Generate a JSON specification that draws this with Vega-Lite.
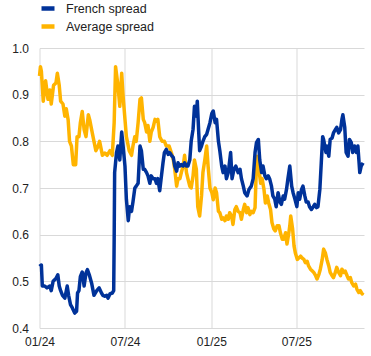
{
  "$schema": "https://vega.github.io/schema/vega-lite/v6.json",
  "width": 324.5,
  "height": 280,
  "autosize": "none",
  "padding": {"left": 39.5, "top": 48, "right": 7, "bottom": 28},
  "config": {
    "view": {"stroke": null},
    "font": "Liberation Sans",
    "axis": {"gridColor": "#d9d9d9", "gridWidth": 1, "labelFontSize": 12, "labelColor": "#222222", "labelFont": "Liberation Sans"}
  },
  "encoding": {
    "x": {"field": "date", "type": "temporal",
      "scale": {"domain": [{"year": 2024, "month": 1, "date": 1}, {"year": 2025, "month": 11, "date": 22}]},
      "axis": {"values": [{"year": 2024, "month": 1, "date": 1}, {"year": 2024, "month": 7, "date": 1}, {"year": 2025, "month": 1, "date": 1}, {"year": 2025, "month": 7, "date": 1}],
        "format": "%m/%y", "title": null, "grid": true, "ticks": false, "domain": false, "labelPadding": 8.5, "labelFlush": false}},
    "y": {"field": "value", "type": "quantitative",
      "scale": {"domain": [0.4, 1.0], "nice": false, "zero": false},
      "axis": {"values": [0.4, 0.5, 0.6, 0.7, 0.8, 0.9, 1.0], "format": ".1f", "title": null, "grid": true, "ticks": false, "domain": false, "labelPadding": 11}},
    "color": {"type": "nominal",
      "scale": {"domain": ["French spread", "Average spread"], "range": ["#003299", "#FFB400"]},
      "legend": {"orient": "none", "legendX": -0.5, "legendY": -48.5, "title": null, "symbolType": "stroke", "symbolStrokeWidth": 4.5, "symbolSize": 169, "labelFontSize": 12.5, "labelColor": "#222222", "labelOffset": 9, "rowPadding": -1, "padding": 0}}
  },
  "layer": [
    {
      "data": {"values": [
        {"date": "2024-01-01", "value": 0.94}, {"date": "2024-01-03", "value": 0.96}, {"date": "2024-01-05", "value": 0.95}, {"date": "2024-01-09", "value": 0.886},
        {"date": "2024-01-14", "value": 0.93}, {"date": "2024-01-19", "value": 0.89}, {"date": "2024-01-23", "value": 0.91}, {"date": "2024-01-26", "value": 0.88},
        {"date": "2024-01-31", "value": 0.92}, {"date": "2024-02-05", "value": 0.925}, {"date": "2024-02-08", "value": 0.946}, {"date": "2024-02-12", "value": 0.92},
        {"date": "2024-02-15", "value": 0.886}, {"date": "2024-02-20", "value": 0.88}, {"date": "2024-02-24", "value": 0.854}, {"date": "2024-02-27", "value": 0.87},
        {"date": "2024-03-02", "value": 0.846}, {"date": "2024-03-05", "value": 0.80}, {"date": "2024-03-09", "value": 0.79}, {"date": "2024-03-13", "value": 0.75},
        {"date": "2024-03-18", "value": 0.75}, {"date": "2024-03-21", "value": 0.81}, {"date": "2024-03-25", "value": 0.81}, {"date": "2024-03-28", "value": 0.84},
        {"date": "2024-04-01", "value": 0.864}, {"date": "2024-04-05", "value": 0.825}, {"date": "2024-04-09", "value": 0.81}, {"date": "2024-04-14", "value": 0.857},
        {"date": "2024-04-17", "value": 0.846}, {"date": "2024-04-21", "value": 0.825}, {"date": "2024-04-26", "value": 0.80}, {"date": "2024-04-30", "value": 0.78},
        {"date": "2024-05-05", "value": 0.79}, {"date": "2024-05-08", "value": 0.80}, {"date": "2024-05-14", "value": 0.77}, {"date": "2024-05-19", "value": 0.775},
        {"date": "2024-05-24", "value": 0.77}, {"date": "2024-05-30", "value": 0.78}, {"date": "2024-06-04", "value": 0.77}, {"date": "2024-06-08", "value": 0.84},
        {"date": "2024-06-11", "value": 0.96}, {"date": "2024-06-16", "value": 0.92}, {"date": "2024-06-20", "value": 0.875}, {"date": "2024-06-24", "value": 0.946},
        {"date": "2024-06-27", "value": 0.897}, {"date": "2024-07-01", "value": 0.847}, {"date": "2024-07-04", "value": 0.81}, {"date": "2024-07-10", "value": 0.78},
        {"date": "2024-07-15", "value": 0.77}, {"date": "2024-07-18", "value": 0.79}, {"date": "2024-07-22", "value": 0.81}, {"date": "2024-07-25", "value": 0.80},
        {"date": "2024-07-29", "value": 0.84}, {"date": "2024-08-02", "value": 0.89}, {"date": "2024-08-05", "value": 0.893}, {"date": "2024-08-09", "value": 0.847},
        {"date": "2024-08-12", "value": 0.84}, {"date": "2024-08-16", "value": 0.82}, {"date": "2024-08-19", "value": 0.834}, {"date": "2024-08-23", "value": 0.80},
        {"date": "2024-08-26", "value": 0.82}, {"date": "2024-08-30", "value": 0.83}, {"date": "2024-09-03", "value": 0.847}, {"date": "2024-09-06", "value": 0.843},
        {"date": "2024-09-09", "value": 0.847}, {"date": "2024-09-13", "value": 0.81}, {"date": "2024-09-18", "value": 0.80}, {"date": "2024-09-23", "value": 0.80},
        {"date": "2024-09-27", "value": 0.79}, {"date": "2024-10-03", "value": 0.79}, {"date": "2024-10-08", "value": 0.775}, {"date": "2024-10-12", "value": 0.76},
        {"date": "2024-10-15", "value": 0.74}, {"date": "2024-10-19", "value": 0.704}, {"date": "2024-10-22", "value": 0.72}, {"date": "2024-10-26", "value": 0.72},
        {"date": "2024-10-29", "value": 0.733}, {"date": "2024-11-02", "value": 0.747}, {"date": "2024-11-05", "value": 0.77}, {"date": "2024-11-09", "value": 0.733},
        {"date": "2024-11-12", "value": 0.72}, {"date": "2024-11-16", "value": 0.704}, {"date": "2024-11-19", "value": 0.70}, {"date": "2024-11-23", "value": 0.726},
        {"date": "2024-11-26", "value": 0.76}, {"date": "2024-11-30", "value": 0.74}, {"date": "2024-12-03", "value": 0.66}, {"date": "2024-12-07", "value": 0.64},
        {"date": "2024-12-11", "value": 0.683}, {"date": "2024-12-14", "value": 0.733}, {"date": "2024-12-18", "value": 0.76}, {"date": "2024-12-22", "value": 0.79},
        {"date": "2024-12-25", "value": 0.747}, {"date": "2024-12-29", "value": 0.70}, {"date": "2025-01-02", "value": 0.69}, {"date": "2025-01-05", "value": 0.675},
        {"date": "2025-01-09", "value": 0.70}, {"date": "2025-01-12", "value": 0.69}, {"date": "2025-01-16", "value": 0.65}, {"date": "2025-01-19", "value": 0.647},
        {"date": "2025-01-23", "value": 0.633}, {"date": "2025-01-26", "value": 0.636}, {"date": "2025-01-30", "value": 0.63}, {"date": "2025-02-02", "value": 0.64},
        {"date": "2025-02-06", "value": 0.633}, {"date": "2025-02-09", "value": 0.647}, {"date": "2025-02-13", "value": 0.64}, {"date": "2025-02-16", "value": 0.622},
        {"date": "2025-02-20", "value": 0.654}, {"date": "2025-02-23", "value": 0.66}, {"date": "2025-02-27", "value": 0.65}, {"date": "2025-03-03", "value": 0.647},
        {"date": "2025-03-06", "value": 0.633}, {"date": "2025-03-10", "value": 0.654}, {"date": "2025-03-13", "value": 0.665}, {"date": "2025-03-17", "value": 0.647},
        {"date": "2025-03-20", "value": 0.658}, {"date": "2025-03-24", "value": 0.643}, {"date": "2025-03-27", "value": 0.65}, {"date": "2025-03-31", "value": 0.647},
        {"date": "2025-04-04", "value": 0.658}, {"date": "2025-04-06", "value": 0.72}, {"date": "2025-04-08", "value": 0.768}, {"date": "2025-04-12", "value": 0.74},
        {"date": "2025-04-16", "value": 0.71}, {"date": "2025-04-19", "value": 0.72}, {"date": "2025-04-23", "value": 0.697}, {"date": "2025-04-26", "value": 0.668},
        {"date": "2025-04-30", "value": 0.683}, {"date": "2025-05-03", "value": 0.668}, {"date": "2025-05-07", "value": 0.654}, {"date": "2025-05-10", "value": 0.626},
        {"date": "2025-05-14", "value": 0.612}, {"date": "2025-05-17", "value": 0.608}, {"date": "2025-05-21", "value": 0.619}, {"date": "2025-05-25", "value": 0.619},
        {"date": "2025-05-28", "value": 0.604}, {"date": "2025-06-01", "value": 0.59}, {"date": "2025-06-04", "value": 0.59}, {"date": "2025-06-08", "value": 0.604},
        {"date": "2025-06-11", "value": 0.58}, {"date": "2025-06-15", "value": 0.604}, {"date": "2025-06-17", "value": 0.619}, {"date": "2025-06-19", "value": 0.64},
        {"date": "2025-06-23", "value": 0.612}, {"date": "2025-06-26", "value": 0.576}, {"date": "2025-06-29", "value": 0.56}, {"date": "2025-07-03", "value": 0.547},
        {"date": "2025-07-06", "value": 0.55}, {"date": "2025-07-10", "value": 0.554}, {"date": "2025-07-13", "value": 0.55}, {"date": "2025-07-17", "value": 0.547},
        {"date": "2025-07-20", "value": 0.54}, {"date": "2025-07-24", "value": 0.543}, {"date": "2025-07-27", "value": 0.533}, {"date": "2025-07-31", "value": 0.526},
        {"date": "2025-08-04", "value": 0.522}, {"date": "2025-08-07", "value": 0.519}, {"date": "2025-08-11", "value": 0.512}, {"date": "2025-08-14", "value": 0.505},
        {"date": "2025-08-18", "value": 0.515}, {"date": "2025-08-21", "value": 0.526}, {"date": "2025-08-25", "value": 0.547}, {"date": "2025-08-28", "value": 0.569},
        {"date": "2025-09-01", "value": 0.56}, {"date": "2025-09-04", "value": 0.547}, {"date": "2025-09-08", "value": 0.533}, {"date": "2025-09-11", "value": 0.519},
        {"date": "2025-09-15", "value": 0.512}, {"date": "2025-09-18", "value": 0.508}, {"date": "2025-09-22", "value": 0.519}, {"date": "2025-09-25", "value": 0.53},
        {"date": "2025-09-29", "value": 0.519}, {"date": "2025-10-03", "value": 0.512}, {"date": "2025-10-06", "value": 0.526}, {"date": "2025-10-10", "value": 0.519},
        {"date": "2025-10-13", "value": 0.522}, {"date": "2025-10-17", "value": 0.512}, {"date": "2025-10-20", "value": 0.505}, {"date": "2025-10-24", "value": 0.508},
        {"date": "2025-10-27", "value": 0.497}, {"date": "2025-10-31", "value": 0.49}, {"date": "2025-11-04", "value": 0.494}, {"date": "2025-11-07", "value": 0.483},
        {"date": "2025-11-11", "value": 0.476}, {"date": "2025-11-14", "value": 0.48}, {"date": "2025-11-18", "value": 0.473}, {"date": "2025-11-20", "value": 0.476}
      ]},
      "mark": {"type": "line", "strokeWidth": 3.5, "strokeJoin": "round"},
      "encoding": {"color": {"datum": "Average spread"}}
    },
    {
      "data": {"values": [
        {"date": "2024-01-01", "value": 0.532}, {"date": "2024-01-05", "value": 0.535}, {"date": "2024-01-07", "value": 0.49}, {"date": "2024-01-12", "value": 0.49},
        {"date": "2024-01-17", "value": 0.486}, {"date": "2024-01-23", "value": 0.49}, {"date": "2024-01-26", "value": 0.48}, {"date": "2024-01-30", "value": 0.50},
        {"date": "2024-02-05", "value": 0.506}, {"date": "2024-02-09", "value": 0.514}, {"date": "2024-02-12", "value": 0.49}, {"date": "2024-02-15", "value": 0.48},
        {"date": "2024-02-19", "value": 0.47}, {"date": "2024-02-24", "value": 0.464}, {"date": "2024-02-29", "value": 0.49}, {"date": "2024-03-03", "value": 0.47},
        {"date": "2024-03-07", "value": 0.45}, {"date": "2024-03-11", "value": 0.443}, {"date": "2024-03-16", "value": 0.432}, {"date": "2024-03-20", "value": 0.436},
        {"date": "2024-03-22", "value": 0.475}, {"date": "2024-03-25", "value": 0.48}, {"date": "2024-03-28", "value": 0.51}, {"date": "2024-04-01", "value": 0.52},
        {"date": "2024-04-05", "value": 0.49}, {"date": "2024-04-09", "value": 0.518}, {"date": "2024-04-12", "value": 0.525}, {"date": "2024-04-16", "value": 0.514},
        {"date": "2024-04-21", "value": 0.496}, {"date": "2024-04-26", "value": 0.47}, {"date": "2024-05-02", "value": 0.48}, {"date": "2024-05-07", "value": 0.486},
        {"date": "2024-05-12", "value": 0.475}, {"date": "2024-05-15", "value": 0.47}, {"date": "2024-05-19", "value": 0.468}, {"date": "2024-05-23", "value": 0.47},
        {"date": "2024-05-26", "value": 0.464}, {"date": "2024-05-30", "value": 0.473}, {"date": "2024-06-04", "value": 0.475}, {"date": "2024-06-07", "value": 0.48},
        {"date": "2024-06-08", "value": 0.59}, {"date": "2024-06-09", "value": 0.733}, {"date": "2024-06-13", "value": 0.776}, {"date": "2024-06-16", "value": 0.79},
        {"date": "2024-06-20", "value": 0.76}, {"date": "2024-06-24", "value": 0.82}, {"date": "2024-06-27", "value": 0.79}, {"date": "2024-07-01", "value": 0.747},
        {"date": "2024-07-04", "value": 0.676}, {"date": "2024-07-08", "value": 0.63}, {"date": "2024-07-11", "value": 0.66}, {"date": "2024-07-15", "value": 0.65},
        {"date": "2024-07-18", "value": 0.67}, {"date": "2024-07-22", "value": 0.70}, {"date": "2024-07-25", "value": 0.704}, {"date": "2024-07-29", "value": 0.71},
        {"date": "2024-08-02", "value": 0.79}, {"date": "2024-08-05", "value": 0.78}, {"date": "2024-08-09", "value": 0.74}, {"date": "2024-08-12", "value": 0.74},
        {"date": "2024-08-16", "value": 0.733}, {"date": "2024-08-19", "value": 0.726}, {"date": "2024-08-23", "value": 0.71}, {"date": "2024-08-26", "value": 0.726},
        {"date": "2024-08-30", "value": 0.72}, {"date": "2024-09-03", "value": 0.72}, {"date": "2024-09-06", "value": 0.71}, {"date": "2024-09-09", "value": 0.72},
        {"date": "2024-09-13", "value": 0.694}, {"date": "2024-09-16", "value": 0.72}, {"date": "2024-09-20", "value": 0.754}, {"date": "2024-09-23", "value": 0.776},
        {"date": "2024-09-27", "value": 0.783}, {"date": "2024-10-01", "value": 0.772}, {"date": "2024-10-04", "value": 0.776}, {"date": "2024-10-08", "value": 0.77},
        {"date": "2024-10-12", "value": 0.765}, {"date": "2024-10-15", "value": 0.747}, {"date": "2024-10-19", "value": 0.736}, {"date": "2024-10-22", "value": 0.754},
        {"date": "2024-10-26", "value": 0.747}, {"date": "2024-10-29", "value": 0.75}, {"date": "2024-11-02", "value": 0.747}, {"date": "2024-11-05", "value": 0.754},
        {"date": "2024-11-09", "value": 0.747}, {"date": "2024-11-12", "value": 0.747}, {"date": "2024-11-16", "value": 0.76}, {"date": "2024-11-19", "value": 0.80},
        {"date": "2024-11-23", "value": 0.826}, {"date": "2024-11-26", "value": 0.875}, {"date": "2024-11-30", "value": 0.854}, {"date": "2024-12-02", "value": 0.886},
        {"date": "2024-12-05", "value": 0.82}, {"date": "2024-12-07", "value": 0.78}, {"date": "2024-12-11", "value": 0.79}, {"date": "2024-12-14", "value": 0.80},
        {"date": "2024-12-18", "value": 0.81}, {"date": "2024-12-22", "value": 0.815}, {"date": "2024-12-25", "value": 0.826}, {"date": "2024-12-29", "value": 0.84},
        {"date": "2025-01-02", "value": 0.86}, {"date": "2025-01-05", "value": 0.865}, {"date": "2025-01-09", "value": 0.84}, {"date": "2025-01-12", "value": 0.847},
        {"date": "2025-01-16", "value": 0.80}, {"date": "2025-01-19", "value": 0.78}, {"date": "2025-01-23", "value": 0.747}, {"date": "2025-01-26", "value": 0.733},
        {"date": "2025-01-30", "value": 0.747}, {"date": "2025-02-02", "value": 0.72}, {"date": "2025-02-06", "value": 0.733}, {"date": "2025-02-11", "value": 0.776},
        {"date": "2025-02-14", "value": 0.72}, {"date": "2025-02-18", "value": 0.74}, {"date": "2025-02-22", "value": 0.747}, {"date": "2025-02-27", "value": 0.733},
        {"date": "2025-03-03", "value": 0.74}, {"date": "2025-03-06", "value": 0.72}, {"date": "2025-03-10", "value": 0.704}, {"date": "2025-03-13", "value": 0.69},
        {"date": "2025-03-18", "value": 0.683}, {"date": "2025-03-22", "value": 0.697}, {"date": "2025-03-27", "value": 0.704}, {"date": "2025-03-31", "value": 0.72},
        {"date": "2025-04-04", "value": 0.776}, {"date": "2025-04-07", "value": 0.797}, {"date": "2025-04-11", "value": 0.804}, {"date": "2025-04-14", "value": 0.76},
        {"date": "2025-04-18", "value": 0.733}, {"date": "2025-04-21", "value": 0.747}, {"date": "2025-04-25", "value": 0.726}, {"date": "2025-04-28", "value": 0.72},
        {"date": "2025-05-02", "value": 0.726}, {"date": "2025-05-05", "value": 0.72}, {"date": "2025-05-09", "value": 0.704}, {"date": "2025-05-12", "value": 0.683},
        {"date": "2025-05-16", "value": 0.676}, {"date": "2025-05-19", "value": 0.66}, {"date": "2025-05-23", "value": 0.69}, {"date": "2025-05-27", "value": 0.67},
        {"date": "2025-05-30", "value": 0.665}, {"date": "2025-06-03", "value": 0.683}, {"date": "2025-06-06", "value": 0.676}, {"date": "2025-06-10", "value": 0.697},
        {"date": "2025-06-13", "value": 0.72}, {"date": "2025-06-17", "value": 0.747}, {"date": "2025-06-21", "value": 0.704}, {"date": "2025-06-24", "value": 0.69},
        {"date": "2025-06-28", "value": 0.676}, {"date": "2025-07-02", "value": 0.66}, {"date": "2025-07-05", "value": 0.69}, {"date": "2025-07-08", "value": 0.676},
        {"date": "2025-07-12", "value": 0.697}, {"date": "2025-07-15", "value": 0.704}, {"date": "2025-07-19", "value": 0.683}, {"date": "2025-07-22", "value": 0.67},
        {"date": "2025-07-26", "value": 0.67}, {"date": "2025-07-29", "value": 0.66}, {"date": "2025-08-02", "value": 0.654}, {"date": "2025-08-06", "value": 0.66},
        {"date": "2025-08-09", "value": 0.665}, {"date": "2025-08-13", "value": 0.658}, {"date": "2025-08-16", "value": 0.66}, {"date": "2025-08-20", "value": 0.697},
        {"date": "2025-08-23", "value": 0.754}, {"date": "2025-08-26", "value": 0.81}, {"date": "2025-08-28", "value": 0.804}, {"date": "2025-09-02", "value": 0.776},
        {"date": "2025-09-04", "value": 0.79}, {"date": "2025-09-08", "value": 0.768}, {"date": "2025-09-11", "value": 0.804}, {"date": "2025-09-15", "value": 0.807},
        {"date": "2025-09-18", "value": 0.818}, {"date": "2025-09-22", "value": 0.825}, {"date": "2025-09-25", "value": 0.83}, {"date": "2025-09-29", "value": 0.818},
        {"date": "2025-10-03", "value": 0.825}, {"date": "2025-10-06", "value": 0.847}, {"date": "2025-10-08", "value": 0.857}, {"date": "2025-10-12", "value": 0.83},
        {"date": "2025-10-15", "value": 0.776}, {"date": "2025-10-19", "value": 0.768}, {"date": "2025-10-22", "value": 0.804}, {"date": "2025-10-26", "value": 0.797},
        {"date": "2025-10-29", "value": 0.776}, {"date": "2025-11-02", "value": 0.79}, {"date": "2025-11-06", "value": 0.776}, {"date": "2025-11-09", "value": 0.79},
        {"date": "2025-11-13", "value": 0.733}, {"date": "2025-11-16", "value": 0.747}, {"date": "2025-11-20", "value": 0.754}
      ]},
      "mark": {"type": "line", "strokeWidth": 3.5, "strokeJoin": "round"},
      "encoding": {"color": {"datum": "French spread"}}
    }
  ]
}
